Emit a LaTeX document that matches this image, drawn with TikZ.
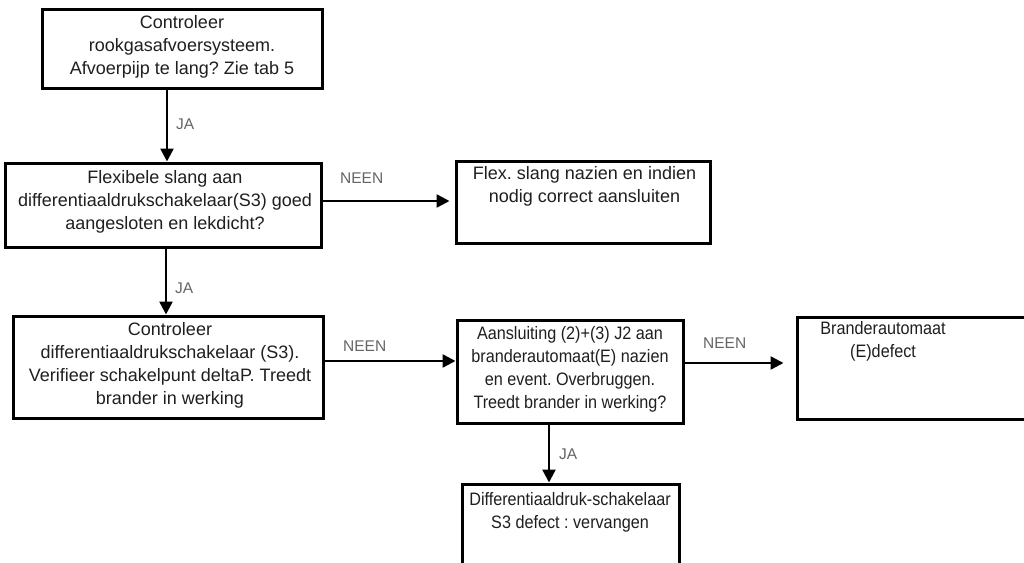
\documentclass[tikz,border=0pt]{standalone}
\usepackage{fontspec}
\setmainfont{Liberation Sans}
\newfontfamily\narrowfont[FakeStretch=0.9]{Liberation Sans}
\usetikzlibrary{arrows.meta}
\frenchspacing
\tikzset{
  box/.style={draw=black, line width=3pt, rectangle, inner sep=0pt},
  txt/.style={anchor=north, inner sep=0pt, align=center, text=black!88,
              font=\fontsize{18}{23}\selectfont},
  ntxt/.style={txt, font=\narrowfont\fontsize{18}{23}\selectfont},
  lbl/.style={inner sep=0pt, text=black!60, font=\fontsize{15.5}{18}\selectfont},
  conn/.style={line width=2.5pt, -{Triangle[length=13pt,width=13pt]}}
}
\begin{document}
\begin{tikzpicture}[x=1pt,y=-1pt]
\useasboundingbox[fill=white] (0,0) rectangle (1024,562);
% boxes
\node[box, minimum width=280pt, minimum height=79pt] (b1) at (182,48.5) {};
\node[box, minimum width=316pt, minimum height=84pt] (b2) at (163,205) {};
\node[box, minimum width=254pt, minimum height=82pt] (b3) at (583,202) {};
\node[box, minimum width=310pt, minimum height=102pt] (b4) at (168,367) {};
\node[box, minimum width=226pt, minimum height=103pt] (b5) at (570,371.5) {};
\node[box, minimum width=243pt, minimum height=102pt] (b6) at (918.5,368) {};
\node[box, minimum width=217pt, minimum height=116pt] (b7) at (570.5,542) {};
% texts
\node[txt] (t1) at (182,15) {Controleer\\rookgasafvoersysteem.\\Afvoerpijp te lang? Zie tab 5};
\node[txt] (t2) at (165,170) {Flexibele slang aan\\differentiaaldrukschakelaar(S3) goed\\aangesloten en lekdicht?};
\node[txt] (t3) at (584.5,166) {Flex. slang nazien en indien\\nodig correct aansluiten};
\node[txt] (t4) at (170,322) {Controleer\\differentiaaldrukschakelaar (S3).\\Verifieer schakelpunt deltaP. Treedt\\brander in werking};
\node[ntxt] (t5) at (570,326) {Aansluiting (2)+(3) J2 aan\\branderautomaat(E) nazien\\en event. Overbruggen.\\Treedt brander in werking?};
\node[ntxt] (t6) at (883,321) {Branderautomaat\\(E)defect};
\node[ntxt] (t7) at (570,492) {Differentiaaldruk-schakelaar\\S3 defect : vervangen};
% connector coordinates
\coordinate (x1) at (167,0);
\coordinate (x2) at (166,0);
\coordinate (y3) at (0,361);
\coordinate (y4) at (0,201);
\coordinate (y5) at (0,363);
\coordinate (x6) at (549,0);
% connectors
\draw[conn] (b1.south -| x1) -- (b2.north -| x1);
\draw[conn] (b2.south -| x2) -- (b4.north -| x2);
\draw[conn, shorten >=5pt] (b2.east |- y4) -- (b3.west |- y4);
\draw[conn] (b4.east |- y3) -- (b5.west |- y3);
\draw[conn, shorten >=12pt] (b5.east |- y5) -- (b6.west |- y5);
\draw[conn] (b5.south -| x6) -- (b7.north -| x6);
% labels
\node[lbl, anchor=west] (l1) at (176,124) {JA};
\node[lbl, anchor=west] (l2) at (175,288) {JA};
\node[lbl, anchor=west] (l3) at (559,454) {JA};
\node[lbl, anchor=west] (l4) at (340,178) {NEEN};
\node[lbl, anchor=west] (l5) at (343,346) {NEEN};
\node[lbl, anchor=west] (l6) at (703,343) {NEEN};
\end{tikzpicture}
\end{document}
